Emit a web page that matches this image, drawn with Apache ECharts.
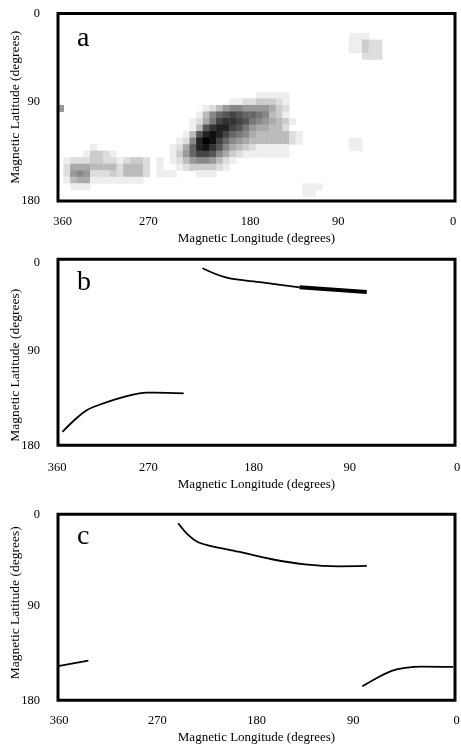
<!DOCTYPE html>
<html><head><meta charset="utf-8">
<script src="https://cdn.jsdelivr.net/npm/echarts@6/dist/echarts.min.js"></script>
<style>html,body{margin:0;padding:0;background:#fff}#c{width:461px;height:745px}</style>
</head><body><div id="c"></div>
<script>
// ---------- data ----------
const lonTicks = [360, 270, 180, 90, 0];
const latTicks = [0, 90, 180];
const panelLetters = ['a', 'b', 'c'];
const xTitle = 'Magnetic Longitude (degrees)';
const yTitle = 'Magnetic Latitude (degrees)';

// heatmap bins (6 degree cells); lon bin centres from 360 side, lat bin centres from 0
const lonBins = [357,351,345,339,333,327,321,315,309,303,297,291,285,279,273,267,261,255,249,243,
  237,231,225,219,213,207,201,195,189,183,177,171,165,159,153,147,141,135,129,123,
  117,111,105,99,93,87,81,75,69,63,57,51,45,39,33,27,21,15,9,3];
const latBins = [3,9,15,21,27,33,39,45,51,57,63,69,75,81,87,93,99,105,111,117,123,129,135,141,147,153,159,165];

// rows of occurrence density (0 = none .. 15 = max): [latBinIndex, firstLonBinIndex, levels]
const heatRows = [
  [3, 44, [1,1,1]],
  [4, 44, [1,1,3,2,2]],
  [5, 44, [1,1,3,2,2]],
  [6, 46, [2,2,2]],
  [12, 30, [1,1,1,1,1]],
  [13, 26, [1,1,2,2,3,3,3,2,1]],
  [14, 0, [6]],
  [14, 22, [1,2,4,6,7,7,6,6,6,6,5,3,2]],
  [15, 21, [1,4,7,9,10,11,10,9,9,8,7,4,3,1]],
  [16, 20, [1,2,5,8,11,12,12,11,10,8,7,6,5,4,3,1]],
  [17, 20, [1,4,10,12,13,13,11,10,8,6,5,5,4,4,2]],
  [18, 19, [1,4,10,13,14,13,11,9,8,7,5,4,4,4,4,4,2,1]],
  [19, 18, [1,2,7,13,15,14,11,9,7,6,5,4,4,4,4,4,4,2,1]],
  [19, 44, [1,1]],
  [20, 5, [1]],
  [20, 17, [1,2,5,9,13,14,12,10,7,5,4,3,2,1,1,1,1,1]],
  [20, 44, [1,1]],
  [21, 4, [1,3,3,2,1]],
  [21, 17, [1,3,6,9,11,11,10,7,5,3,2,1,1,1,1,1,1,1]],
  [22, 1, [1,2,2,2,3,3,2,2,1,2,3,3,2,0,1]],
  [22, 17, [1,2,4,6,7,7,6,4,2,1]],
  [23, 1, [2,5,5,5,4,4,4,4,2,4,4,4,2,0,1]],
  [23, 18, [1,2,3,3,3,3,2,1]],
  [24, 1, [2,6,7,6,2,2,2,3,2,4,4,4,2,0,1,1,1,0,0,0,1,1,1]],
  [25, 1, [1,4,5,5,1,1,1,1,1,1,1,1]],
  [26, 2, [1,1,1]],
  [26, 37, [1,1,1]],
  [27, 37, [1,1]]
];

// panel b traces
const bSouthLon = [356, 345, 334, 323, 308, 293, 280, 272, 246];
const bSouthLat = [167, 155.5, 146, 141, 135.5, 131.3, 129.1, 129.1, 129.7];
const bNorthLon = [229, 207, 175, 141];
const bNorthLat = [8.7, 17.8, 22.3, 27.1];
const bBoldLon = [141, 80];
const bBoldLat = [27.1, 31.6];

// panel c traces
const cNorthLon = [251, 242, 233, 221, 196.5, 166, 136, 106, 80];
const cNorthLat = [8.7, 20, 27.1, 30.7, 36.2, 43.5, 48.4, 50.3, 50];
const cWestLon = [360, 332.5];
const cWestLat = [147, 141.6];
const cEastLon = [84, 69.6, 57.4, 45.3, 30.3, 1.6];
const cEastLat = [166.5, 157.7, 151.6, 148.7, 147.4, 147.7];

// ---------- layout / style (not data) ----------
const FONT = '"Liberation Serif", "Times New Roman", serif';
const panels = [
  {top: 13.5, height: 187.5, labelMargin: 14, nameGap: 31, yNamePad: [0, 0, 0, 0],
   xShift: {360: 4.5, 270: -9, 180: -6.5, 90: -17.5, 0: -2}, yShift: {0: 0, 90: -5.5, 180: 0}},
  {top: 259.3, height: 186, labelMargin: 16, nameGap: 33, yNamePad: [0, 26, 0, 0],
   xShift: {360: -1, 270: -9, 180: -3, 90: -6, 0: 2}, yShift: {0: 3, 90: -1.5, 180: 0}},
  {top: 514.3, height: 186, labelMargin: 14, nameGap: 31, yNamePad: [0, 0, 0, 9],
   xShift: {360: 1, 270: 0, 180: 0, 90: -2.5, 0: 1.5}, yShift: {0: 0, 90: -1.5, 180: 0}}
];

// ---------- build ----------
const heatData = [];
heatRows.forEach(([j, i0, lv]) => lv.forEach((v, k) => { if (v > 0) heatData.push([i0 + k, j, v]); }));
const zip = (a, b) => a.map((v, k) => [v, b[k]]);

function shiftRich(prefix, shifts, horizontal) {
  const rich = {};
  Object.keys(shifts).forEach(key => {
    const d = shifts[key];
    const pad = horizontal
      ? (d >= 0 ? [0, 0, 0, 2 * d] : [0, -2 * d, 0, 0])
      : (d >= 0 ? [2 * d, 0, 0, 0] : [0, 0, -2 * d, 0]);
    rich[prefix + key] = {fontFamily: FONT, fontSize: 12.5, color: '#000', padding: pad};
  });
  return rich;
}

const grids = [], xAxes = [], yAxes = [];
panels.forEach((p) => {
  grids.push({left: 58, top: p.top, width: 397, height: p.height, show: true, z: 10,
    containLabel: false, outerBoundsMode: 'none',
    backgroundColor: 'transparent', borderColor: '#000', borderWidth: 3});
});
// hidden heat grid
grids.push({left: 57.1, top: 13.73, width: 398, height: 182.9, show: false,
  containLabel: false, outerBoundsMode: 'none'});

panels.forEach((p, k) => {
  xAxes.push({gridIndex: k, type: 'value', min: 0, max: 360, interval: 90, inverse: true,
    name: xTitle, nameLocation: 'middle', nameGap: p.nameGap, nameMoveOverlap: false,
    nameTextStyle: {fontFamily: FONT, fontSize: 13, color: '#000'},
    axisLine: {show: false}, axisTick: {show: false}, splitLine: {show: false},
    axisLabel: {fontFamily: FONT, fontSize: 12.5, color: '#000', margin: p.labelMargin,
      rich: shiftRich('x', p.xShift, true),
      formatter: v => lonTicks.includes(v) ? '{x' + v + '|' + v + '}' : ''}});
  yAxes.push({gridIndex: k, type: 'value', min: 0, max: 180, interval: 90, inverse: true,
    name: yTitle, nameLocation: 'middle', nameGap: 36, nameMoveOverlap: false,
    nameTextStyle: {fontFamily: FONT, fontSize: 13.5, color: '#000', padding: p.yNamePad},
    axisLine: {show: false}, axisTick: {show: false}, splitLine: {show: false},
    axisLabel: {fontFamily: FONT, fontSize: 12.5, color: '#000', margin: 18,
      rich: shiftRich('y', p.yShift, false),
      formatter: v => latTicks.includes(v) ? '{y' + v + '|' + v + '}' : ''}});
});
xAxes.push({gridIndex: 3, type: 'category', data: lonBins.map(String), show: false});
yAxes.push({gridIndex: 3, type: 'category', data: latBins.map(String), inverse: true, show: false});

const mkLine = (ax, lon, lat, w) => ({type: 'line', xAxisIndex: ax, yAxisIndex: ax,
  data: zip(lon, lat), showSymbol: false, smooth: 0.35, silent: true,
  lineStyle: {color: '#000', width: w || 1.8}});

const series = [
  {type: 'heatmap', xAxisIndex: 3, yAxisIndex: 3, data: heatData, silent: true,
    itemStyle: {borderWidth: 0}},
  mkLine(1, bSouthLon, bSouthLat),
  mkLine(1, bNorthLon, bNorthLat),
  mkLine(1, bBoldLon, bBoldLat, 4),
  mkLine(2, cNorthLon, cNorthLat),
  mkLine(2, cWestLon, cWestLat),
  mkLine(2, cEastLon, cEastLat)
];

const letterTops = [25, 269, 523];
const chart = echarts.init(document.getElementById('c'), null, {renderer: 'canvas'});
chart.setOption({
  animation: false,
  backgroundColor: '#fff',
  grid: grids, xAxis: xAxes, yAxis: yAxes,
  visualMap: {show: false, type: 'continuous', seriesIndex: 0, min: 0, max: 15,
    inRange: {color: ['#ffffff', '#000000']}},
  graphic: panelLetters.map((t, k) => ({type: 'text', left: 77, top: letterTops[k], z: 20,
    style: {text: t, font: '28px ' + FONT, fill: '#000'}})),
  series: series
});
</script></body></html>
